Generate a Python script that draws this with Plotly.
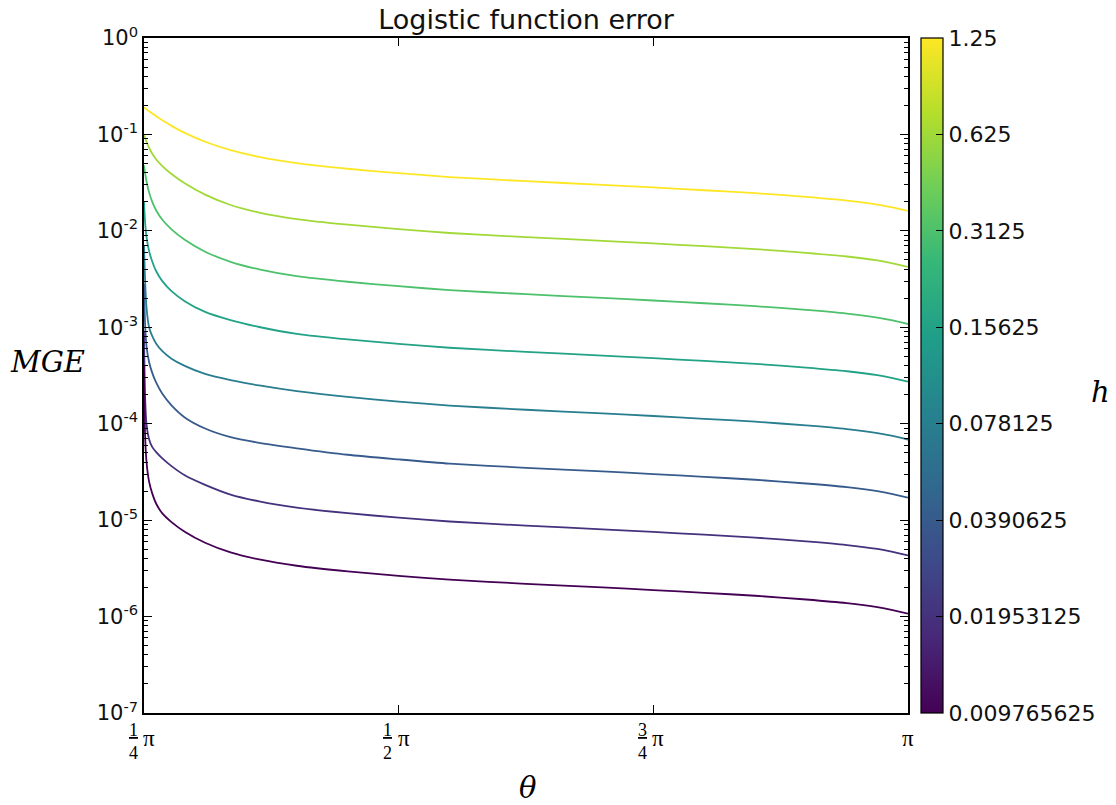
import plotly.graph_objects as go
from plotly.colors import sample_colorscale
import math

# theta in units of pi
theta_over_pi = [0.25, 0.251, 0.2525, 0.255, 0.258, 0.262, 0.268, 0.277, 0.29, 0.31,
                 0.335, 0.363, 0.40, 0.45, 0.50, 0.55, 0.625, 0.70, 0.75, 0.80,
                 0.85, 0.90, 0.94, 0.97, 0.985, 1.0]

h_values = [1.25, 0.625, 0.3125, 0.15625, 0.078125, 0.0390625, 0.01953125, 0.009765625]
h_labels = ["1.25", "0.625", "0.3125", "0.15625", "0.078125", "0.0390625", "0.01953125", "0.009765625"]

# log10(MGE), one list per h
log10_mge_h1_25 = [-0.720, -0.728, -0.740, -0.760, -0.782, -0.812, -0.854, -0.911, -0.984, -1.076,
                   -1.163, -1.233, -1.298, -1.356, -1.402, -1.442, -1.485, -1.523, -1.550, -1.579,
                   -1.609, -1.648, -1.686, -1.727, -1.757, -1.794]
log10_mge_h0_625 = [-1.000, -1.032, -1.076, -1.138, -1.198, -1.260, -1.329, -1.410, -1.506, -1.624,
                    -1.732, -1.810, -1.878, -1.936, -1.982, -2.022, -2.065, -2.103, -2.130, -2.159,
                    -2.189, -2.228, -2.266, -2.307, -2.337, -2.374]
log10_mge_h0_3125 = [-1.320, -1.395, -1.488, -1.601, -1.697, -1.789, -1.885, -1.984, -2.092, -2.216,
                     -2.321, -2.399, -2.470, -2.528, -2.574, -2.614, -2.657, -2.695, -2.722, -2.751,
                     -2.781, -2.820, -2.858, -2.899, -2.929, -2.966]
log10_mge_h0_15625 = [-1.700, -1.900, -2.065, -2.210, -2.315, -2.419, -2.521, -2.625, -2.729, -2.841,
                      -2.926, -2.997, -3.068, -3.126, -3.172, -3.212, -3.255, -3.293, -3.320, -3.349,
                      -3.379, -3.418, -3.456, -3.497, -3.527, -3.564]
log10_mge_h0_078125 = [-2.150, -2.500, -2.800, -3.000, -3.090, -3.170, -3.248, -3.325, -3.400, -3.484,
                       -3.548, -3.603, -3.662, -3.722, -3.770, -3.812, -3.855, -3.893, -3.920, -3.949,
                       -3.979, -4.018, -4.056, -4.097, -4.127, -4.164]
log10_mge_h0_0390625 = [-2.550, -2.950, -3.200, -3.360, -3.470, -3.575, -3.690, -3.810, -3.935, -4.050,
                        -4.140, -4.198, -4.255, -4.322, -4.370, -4.414, -4.457, -4.495, -4.522, -4.551,
                        -4.581, -4.620, -4.658, -4.699, -4.729, -4.766]
log10_mge_h0_01953125 = [-3.050, -3.700, -4.010, -4.160, -4.240, -4.295, -4.360, -4.440, -4.535, -4.634,
                         -4.735, -4.805, -4.870, -4.928, -4.974, -5.014, -5.057, -5.095, -5.122, -5.151,
                         -5.181, -5.220, -5.258, -5.299, -5.329, -5.366]
log10_mge_h0_009765625 = [-3.400, -4.100, -4.400, -4.600, -4.720, -4.830, -4.930, -5.020, -5.120, -5.235,
                          -5.335, -5.408, -5.473, -5.531, -5.577, -5.617, -5.660, -5.698, -5.725, -5.754,
                          -5.784, -5.823, -5.861, -5.902, -5.932, -5.969]

series = [log10_mge_h1_25, log10_mge_h0_625, log10_mge_h0_3125, log10_mge_h0_15625,
          log10_mge_h0_078125, log10_mge_h0_0390625, log10_mge_h0_01953125, log10_mge_h0_009765625]

x_tickvals = [0.25, 0.5, 0.75, 1.0]
x_tick_num = ["1", "1", "3", None]
x_tick_den = ["4", "2", "4", None]
y_exponents = [0, -1, -2, -3, -4, -5, -6, -7]

c_log = [math.log2(h) for h in h_values]
cmin, cmax = min(c_log), max(c_log)

fig = go.Figure()
for h, cl, logs in zip(h_values, c_log, series):
    col = sample_colorscale("Viridis", [(cl - cmin) / (cmax - cmin)])[0]
    fig.add_trace(go.Scatter(
        x=theta_over_pi, y=[10 ** v for v in logs], mode="lines",
        line=dict(color=col, width=1.8, shape="spline", smoothing=0.6),
        showlegend=False, name=f"h={h}"))

# colorbar carrier
fig.add_trace(go.Scatter(
    x=[0.25, 0.25], y=[1e-9, 1e-9], mode="markers",
    marker=dict(size=0.1, opacity=0, color=[cmin, cmax], colorscale="Viridis",
                cmin=cmin, cmax=cmax, showscale=True,
                colorbar=dict(
                    x=(920.5 - 144) / 764, xanchor="left", xpad=0, y=0, yanchor="bottom", ypad=0,
                    len=1, lenmode="fraction", thickness=22, thicknessmode="pixels",
                    outlinecolor="black", outlinewidth=1.2,
                    tickmode="array", tickvals=c_log, ticktext=h_labels,
                    ticks="inside", ticklen=7, tickcolor="black",
                    tickfont=dict(family="DejaVu Sans", size=22, color="#111111"),
                )),
    showlegend=False, hoverinfo="skip"))

minor_vals = [m * 10 ** e for e in range(-7, 0) for m in range(2, 10)]

annotations = [
    dict(text="<i>MGE</i>", xref="paper", yref="paper", x=(47 - 144) / 764, y=(713 - 362) / 675,
         xanchor="center", yanchor="middle",
         showarrow=False, font=dict(family="DejaVu Serif", size=29, color="black")),
    dict(text="<i>θ</i>", xref="paper", yref="paper", x=(527 - 144) / 764, y=(713 - 788) / 675,
         xanchor="center", yanchor="middle",
         showarrow=False, font=dict(family="DejaVu Serif", size=29, color="black")),
    dict(text="<i>h</i>", xref="paper", yref="paper", x=(1100 - 144) / 764, y=(713 - 392) / 675,
         xanchor="center", yanchor="middle",
         showarrow=False, font=dict(family="DejaVu Serif", size=29, color="black")),
]
for v, num, den in zip(x_tickvals, x_tick_num, x_tick_den):
    if num is not None:
        annotations.append(dict(
            text=f"<u>{num}</u><br>{den}", xref="x", yref="paper", x=v, xshift=-11,
            y=(713 - 742) / 675, xanchor="center", yanchor="middle", showarrow=False,
            font=dict(family="Liberation Serif", size=18, color="black")))
        annotations.append(dict(
            text="π", xref="x", yref="paper", x=v, xshift=5,
            y=(713 - 738) / 675, xanchor="center", yanchor="middle", showarrow=False,
            font=dict(family="Liberation Serif", size=23, color="black")))
    else:
        annotations.append(dict(
            text="π", xref="x", yref="paper", x=v, xshift=0,
            y=(713 - 738) / 675, xanchor="center", yanchor="middle", showarrow=False,
            font=dict(family="Liberation Serif", size=23, color="black")))

fig.update_layout(
    width=1108, height=797,
    margin=dict(l=136, r=208, t=30, b=92),
    paper_bgcolor="white", plot_bgcolor="white",
    title=dict(text="Logistic function error", x=(144 + 764 / 2 - 8) / 1108, xanchor="center",
               y=1 - 12 / 797, yanchor="middle",
               font=dict(family="DejaVu Sans", size=27, color="#111111")),
    xaxis=dict(range=[0.25, 1.0], tickmode="array", tickvals=x_tickvals,
               ticktext=["", "", "", ""],
               ticks="inside", ticklen=8, tickwidth=1, tickcolor="black",
               showline=True, linecolor="black", linewidth=1.5, mirror="ticks",
               showgrid=False, zeroline=False),
    yaxis=dict(type="log", range=[-7, 0], tickmode="array",
               tickvals=[10 ** e for e in y_exponents],
               ticktext=[f"10<sup>{e}</sup>" for e in y_exponents],
               ticks="inside", ticklen=8, tickwidth=1, tickcolor="black",
               minor=dict(tickmode="array", tickvals=minor_vals, ticks="inside", ticklen=4,
                          tickcolor="black", tickwidth=1, showgrid=False),
               showline=True, linecolor="black", linewidth=1.5, mirror="ticks",
               showgrid=False, zeroline=False,
               tickfont=dict(family="DejaVu Sans", size=21, color="#111111")),
    annotations=annotations,
)

fig.write_html("out.html")
